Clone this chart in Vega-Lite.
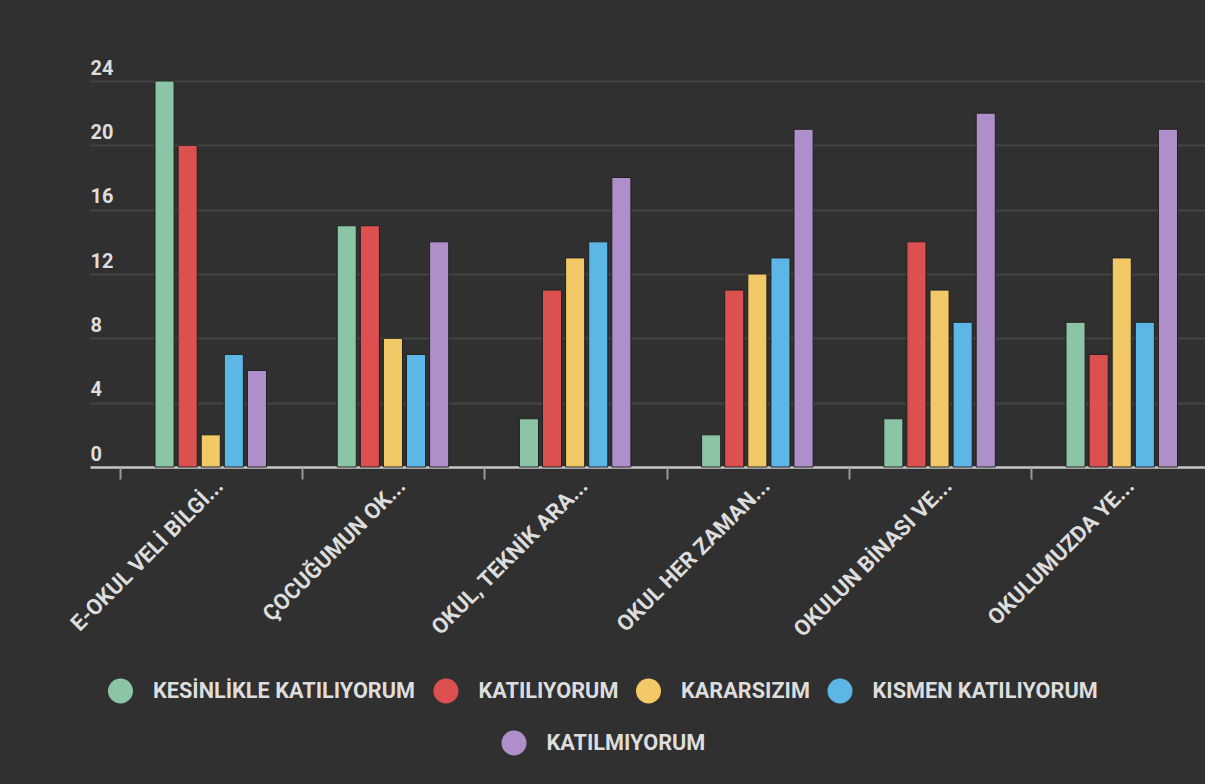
{
  "$schema": "https://vega.github.io/schema/vega-lite/v6.json",
  "width": 1115,
  "height": 386,
  "autosize": {"type": "none"},
  "padding": {"left": 90, "top": 81, "right": 0, "bottom": 317},
  "background": "#303030",
  "config": {"view": {"stroke": null}, "font": "Roboto"},
  "data": {
    "values": [
      {"question": "E-OKUL VELİ BİLGİ...", "response": "KESİNLİKLE KATILIYORUM", "count": 24},
      {"question": "E-OKUL VELİ BİLGİ...", "response": "KATILIYORUM", "count": 20},
      {"question": "E-OKUL VELİ BİLGİ...", "response": "KARARSIZIM", "count": 2},
      {"question": "E-OKUL VELİ BİLGİ...", "response": "KISMEN KATILIYORUM", "count": 7},
      {"question": "E-OKUL VELİ BİLGİ...", "response": "KATILMIYORUM", "count": 6},
      {"question": "ÇOCUĞUMUN OK...", "response": "KESİNLİKLE KATILIYORUM", "count": 15},
      {"question": "ÇOCUĞUMUN OK...", "response": "KATILIYORUM", "count": 15},
      {"question": "ÇOCUĞUMUN OK...", "response": "KARARSIZIM", "count": 8},
      {"question": "ÇOCUĞUMUN OK...", "response": "KISMEN KATILIYORUM", "count": 7},
      {"question": "ÇOCUĞUMUN OK...", "response": "KATILMIYORUM", "count": 14},
      {"question": "OKUL, TEKNİK ARA...", "response": "KESİNLİKLE KATILIYORUM", "count": 3},
      {"question": "OKUL, TEKNİK ARA...", "response": "KATILIYORUM", "count": 11},
      {"question": "OKUL, TEKNİK ARA...", "response": "KARARSIZIM", "count": 13},
      {"question": "OKUL, TEKNİK ARA...", "response": "KISMEN KATILIYORUM", "count": 14},
      {"question": "OKUL, TEKNİK ARA...", "response": "KATILMIYORUM", "count": 18},
      {"question": "OKUL HER ZAMAN...", "response": "KESİNLİKLE KATILIYORUM", "count": 2},
      {"question": "OKUL HER ZAMAN...", "response": "KATILIYORUM", "count": 11},
      {"question": "OKUL HER ZAMAN...", "response": "KARARSIZIM", "count": 12},
      {"question": "OKUL HER ZAMAN...", "response": "KISMEN KATILIYORUM", "count": 13},
      {"question": "OKUL HER ZAMAN...", "response": "KATILMIYORUM", "count": 21},
      {"question": "OKULUN BİNASI VE...", "response": "KESİNLİKLE KATILIYORUM", "count": 3},
      {"question": "OKULUN BİNASI VE...", "response": "KATILIYORUM", "count": 14},
      {"question": "OKULUN BİNASI VE...", "response": "KARARSIZIM", "count": 11},
      {"question": "OKULUN BİNASI VE...", "response": "KISMEN KATILIYORUM", "count": 9},
      {"question": "OKULUN BİNASI VE...", "response": "KATILMIYORUM", "count": 22},
      {"question": "OKULUMUZDA YE...", "response": "KESİNLİKLE KATILIYORUM", "count": 9},
      {"question": "OKULUMUZDA YE...", "response": "KATILIYORUM", "count": 7},
      {"question": "OKULUMUZDA YE...", "response": "KARARSIZIM", "count": 13},
      {"question": "OKULUMUZDA YE...", "response": "KISMEN KATILIYORUM", "count": 9},
      {"question": "OKULUMUZDA YE...", "response": "KATILMIYORUM", "count": 21}
    ]
  },
  "encoding": {
    "x": {
      "field": "question",
      "type": "nominal",
      "sort": null,
      "title": null,
      "scale": {"range": [0, 1123.2], "paddingInner": 0, "paddingOuter": 0.0823, "align": 1},
      "axis": {
        "domain": false,
        "grid": false,
        "ticks": true,
        "tickBand": "extent",
        "tickSize": 12,
        "tickWidth": 2,
        "tickColor": "#9a9a9a",
        "labelAngle": -45,
        "labelAlign": "right",
        "labelBaseline": "middle",
        "labelOffset": 8,
        "labelPadding": 3,
        "labelFont": "Roboto",
        "labelFontSize": 22,
        "labelFontWeight": "bold",
        "labelColor": "#dddddd",
        "labelLimit": 500,
        "labelOverlap": false,
        "labelBound": false
      }
    },
    "xOffset": {
      "field": "response",
      "type": "nominal",
      "sort": ["KESİNLİKLE KATILIYORUM", "KATILIYORUM", "KARARSIZIM", "KISMEN KATILIYORUM", "KATILMIYORUM"],
      "scale": {"range": [35, 146.5], "paddingInner": 0.174, "paddingOuter": 0}
    },
    "y": {
      "field": "count",
      "type": "quantitative",
      "stack": null,
      "title": null,
      "scale": {"domain": [0, 24], "nice": false},
      "axis": {
        "values": [0, 4, 8, 12, 16, 20, 24],
        "domain": false,
        "ticks": false,
        "tickSize": 0,
        "labelAlign": "left",
        "labelBaseline": "alphabetic",
        "labelPadding": 0,
        "labelOffset": -7,
        "labelFlush": false,
        "labelFont": "Roboto",
        "labelFontSize": 20,
        "labelFontWeight": "bold",
        "labelColor": "#dddddd",
        "grid": true,
        "gridColor": {"condition": {"test": "datum.value === 0", "value": "#c8c8c8"}, "value": "#444444"},
        "gridWidth": {"condition": {"test": "datum.value === 0", "value": 2.5}, "value": 2}
      }
    }
  },
  "layer": [
    {
      "mark": {"type": "bar", "stroke": "#222222", "strokeWidth": 1},
      "encoding": {
        "color": {
          "field": "response",
          "type": "nominal",
          "scale": {
            "domain": ["KESİNLİKLE KATILIYORUM", "KATILIYORUM", "KARARSIZIM", "KISMEN KATILIYORUM", "KATILMIYORUM"],
            "range": ["#8cc5a5", "#dd5050", "#f2c966", "#5cb6e6", "#ae8fca"]
          },
          "legend": {
            "orient": "none",
            "legendX": 18,
            "legendY": 597.5,
            "direction": "horizontal",
            "title": null,
            "values": ["KESİNLİKLE KATILIYORUM", "KATILIYORUM", "KARARSIZIM", "KISMEN KATILIYORUM"],
            "symbolType": "circle",
            "symbolSize": 625,
            "symbolStrokeWidth": 0,
            "symbolOpacity": 1,
            "labelFont": "Roboto",
            "labelFontSize": 21.7,
            "labelFontWeight": "bold",
            "labelColor": "#dddddd",
            "labelOffset": 20,
            "columnPadding": 17.5,
            "labelLimit": 500,
            "padding": 0
          }
        }
      }
    },
    {
      "transform": [{"filter": "datum.response === 'KATILMIYORUM'"}],
      "mark": {"type": "bar", "opacity": 0},
      "encoding": {
        "fill": {
          "field": "response",
          "type": "nominal",
          "scale": {"domain": ["KATILMIYORUM"], "range": ["#ae8fca"]},
          "legend": {
            "orient": "none",
            "legendX": 411.5,
            "legendY": 649.5,
            "direction": "horizontal",
            "title": null,
            "symbolType": "circle",
            "symbolSize": 625,
            "symbolStrokeWidth": 0,
            "symbolOpacity": 1,
            "labelFont": "Roboto",
            "labelFontSize": 21.7,
            "labelFontWeight": "bold",
            "labelColor": "#dddddd",
            "labelOffset": 20,
            "labelLimit": 500,
            "padding": 0
          }
        }
      }
    }
  ]
}
